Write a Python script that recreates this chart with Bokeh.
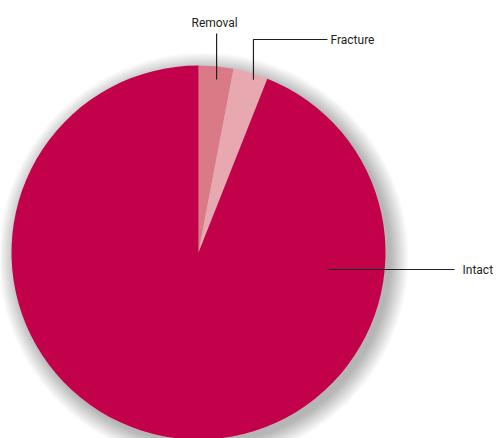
import math
from bokeh.plotting import figure
from bokeh.models import Range1d
from bokeh.core.properties import value
from bokeh.embed import file_html
from bokeh.resources import INLINE

categories = ["Removal", "Fracture", "Intact"]
shares = [3.0, 3.0, 94.0]
colors = ["#D97A86", "#E8A8B0", "#C3004A"]

W, H = 496, 438
p = figure(width=W, height=H, output_backend="svg", toolbar_location=None,
           x_range=Range1d(0, W), y_range=Range1d(0, H), min_border=0)
p.axis.visible = False
p.grid.visible = False
p.outline_line_color = None
p.background_fill_color = "white"

cx, cy, r = 198, 186, 187

# soft drop shadow
for k in range(18, -1, -1):
    p.circle(x=[cx + 5], y=[cy - 5], radius=r + k, radius_units="screen",
             fill_color="#000000", fill_alpha=0.015, line_color=None)

total = sum(shares)
start = math.pi / 2
starts, ends, mids = [], [], []
for s in shares:
    ang = 2 * math.pi * s / total
    starts.append(start - ang)
    ends.append(start)
    mids.append(start - ang / 2)
    start -= ang

p.wedge(x=[cx] * 3, y=[cy] * 3, radius=r, radius_units="screen",
        start_angle=starts, end_angle=ends, fill_color=colors, line_color=None)

lc = "#231F20"
font = value("Roboto")
fs = "12px"
# Removal leader
a = mids[0] - 0.01
x0, y0 = cx + 0.93 * r * math.cos(a), cy + 0.93 * r * math.sin(a)
p.line([x0, x0], [y0, 405], line_color=lc, line_width=1.2)
p.text(x=[x0 - 2], y=[409], text=[categories[0]], text_font=font, text_font_size=fs,
       text_align="center", text_baseline="bottom", text_color="#231F20")
# Fracture leader
a = mids[1] - 0.025
x1, y1 = cx + 0.97 * r * math.cos(a), cy + 0.97 * r * math.sin(a)
p.line([x1, x1, 327], [y1, 399, 399], line_color=lc, line_width=1.2)
p.text(x=[330], y=[399], text=[categories[1]], text_font=font, text_font_size=fs,
       text_align="left", text_baseline="middle", text_color="#231F20")
# Intact leader
p.line([cx + 129, 454], [cy - 17, cy - 17], line_color=lc, line_width=1.2)
p.text(x=[462], y=[cy - 17], text=[categories[2]], text_font=font, text_font_size=fs,
       text_align="left", text_baseline="middle", text_color="#231F20")

open("out.html", "w").write(file_html(p, INLINE))
